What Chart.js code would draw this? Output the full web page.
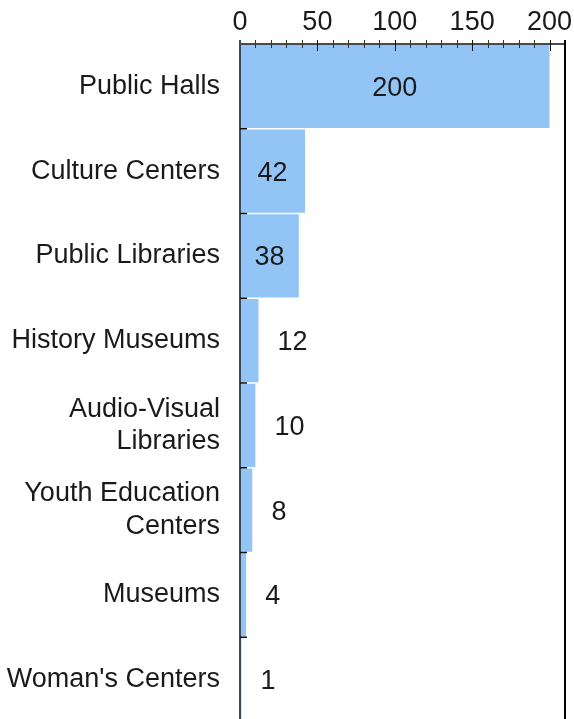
<!DOCTYPE html>
<html lang="en">
<head>
    <meta charset="UTF-8">
    <title>Facilities</title>
    <style>
        html, body { margin: 0; padding: 0; background: #fff; overflow: hidden; }
        canvas { display: block; }
    </style>
</head>
<body>
    <canvas id="chart" width="574" height="722"></canvas>

    <script src="https://cdn.jsdelivr.net/npm/chart.js"></script>
    <script>
        // chart data
        const categories = [
            'Public Halls',
            'Culture Centers',
            'Public Libraries',
            'History Museums',
            ['Audio-Visual', 'Libraries'],
            ['Youth Education', 'Centers'],
            'Museums',
            "Woman's Centers"
        ];
        const counts = [200, 42, 38, 12, 10, 8, 4, 1];
        const axisTicks = [0, 50, 100, 150, 200];
        const axisMax = 210;

        const FONT = 'Liberation Sans, Arial, sans-serif';
        const BAR_COLOR = '#92c5f5';

        // axis lines, tick marks and value labels
        const decor = {
            id: 'decor',
            afterDatasetsDraw(chart) {
                const ctx = chart.ctx;
                const area = chart.chartArea;
                const x = chart.scales.x;
                const y = chart.scales.y;
                ctx.save();

                // value labels
                ctx.font = '27px ' + FONT;
                ctx.fillStyle = '#1a1a1a';
                ctx.textBaseline = 'middle';
                const meta = chart.getDatasetMeta(0);
                meta.data.forEach((bar, i) => {
                    const txt = String(counts[i]);
                    const w = ctx.measureText(txt).width;
                    const barW = bar.x - bar.base;
                    if (barW > w + 20) {
                        ctx.textAlign = 'center';
                        ctx.fillText(txt, (bar.x + bar.base) / 2, bar.y + 2);
                    } else {
                        ctx.textAlign = 'left';
                        ctx.fillText(txt, bar.x + 19, bar.y + 2);
                    }
                });

                // top axis line
                ctx.strokeStyle = '#111';
                ctx.lineWidth = 1.5;
                ctx.beginPath();
                ctx.moveTo(area.left, area.top);
                ctx.lineTo(area.right, area.top);
                ctx.stroke();

                // top tick marks (minor every 10, major every 50)
                ctx.lineWidth = 1;
                for (let v = 10; v <= axisMax; v += 10) {
                    const px = Math.round(x.getPixelForValue(v)) + 0.5;
                    const major = axisTicks.includes(v);
                    ctx.strokeStyle = major ? '#111' : '#333';
                    ctx.beginPath();
                    ctx.moveTo(px, area.top - 4);
                    ctx.lineTo(px, area.top + (major ? 7 : 4));
                    ctx.stroke();
                }

                // right border
                ctx.strokeStyle = '#000';
                ctx.lineWidth = 2;
                ctx.beginPath();
                ctx.moveTo(area.right, area.top - 4);
                ctx.lineTo(area.right, area.bottom);
                ctx.stroke();

                // left category axis
                ctx.strokeStyle = '#3b4a5a';
                ctx.lineWidth = 2;
                ctx.beginPath();
                ctx.moveTo(area.left, area.top - 4);
                ctx.lineTo(area.left, area.bottom);
                ctx.stroke();

                // category boundary ticks
                ctx.strokeStyle = '#111';
                ctx.lineWidth = 1.5;
                for (let i = 1; i < categories.length; i++) {
                    const py = (y.getPixelForValue(i - 1) + y.getPixelForValue(i)) / 2;
                    ctx.beginPath();
                    ctx.moveTo(area.left, py);
                    ctx.lineTo(area.left + 7, py);
                    ctx.stroke();
                }
                ctx.restore();
            }
        };

        // fixed axis sizes, no automatic edge padding
        function fixX(s) {
            s.height = 44;
            s.paddingLeft = s.paddingRight = 0;
        }
        function fixY(s) {
            s.width = 240;
            s.paddingTop = s.paddingBottom = 0;
        }

        new Chart(document.getElementById('chart'), {
            type: 'bar',
            data: {
                labels: categories,
                datasets: [{
                    data: counts,
                    backgroundColor: BAR_COLOR,
                    borderColor: '#ffffff',
                    borderWidth: { top: 1, bottom: 1, right: 0, left: 0 },
                    borderSkipped: false,
                    categoryPercentage: 1,
                    barPercentage: 1
                }]
            },
            options: {
                indexAxis: 'y',
                responsive: false,
                animation: false,
                layout: { padding: { left: 0, right: 9, top: 0, bottom: 0 } },
                plugins: {
                    legend: { display: false },
                    tooltip: { enabled: false }
                },
                scales: {
                    x: {
                        position: 'top',
                        min: 0,
                        max: axisMax,
                        afterBuildTicks: (s) => { s.ticks = axisTicks.map(v => ({ value: v })); },
                        afterFit: fixX,
                        grid: { display: false },
                        border: { display: false },
                        ticks: {
                            font: { family: FONT, size: 27 },
                            color: '#1a1a1a',
                            padding: -3,
                            maxRotation: 0
                        }
                    },
                    y: {
                        afterFit: fixY,
                        grid: { display: false },
                        border: { display: false },
                        ticks: {
                            font: { family: FONT, size: 27, lineHeight: 1.2 },
                            color: '#1a1a1a',
                            padding: 12
                        }
                    }
                }
            },
            plugins: [decor]
        });
    </script>
</body>
</html>
